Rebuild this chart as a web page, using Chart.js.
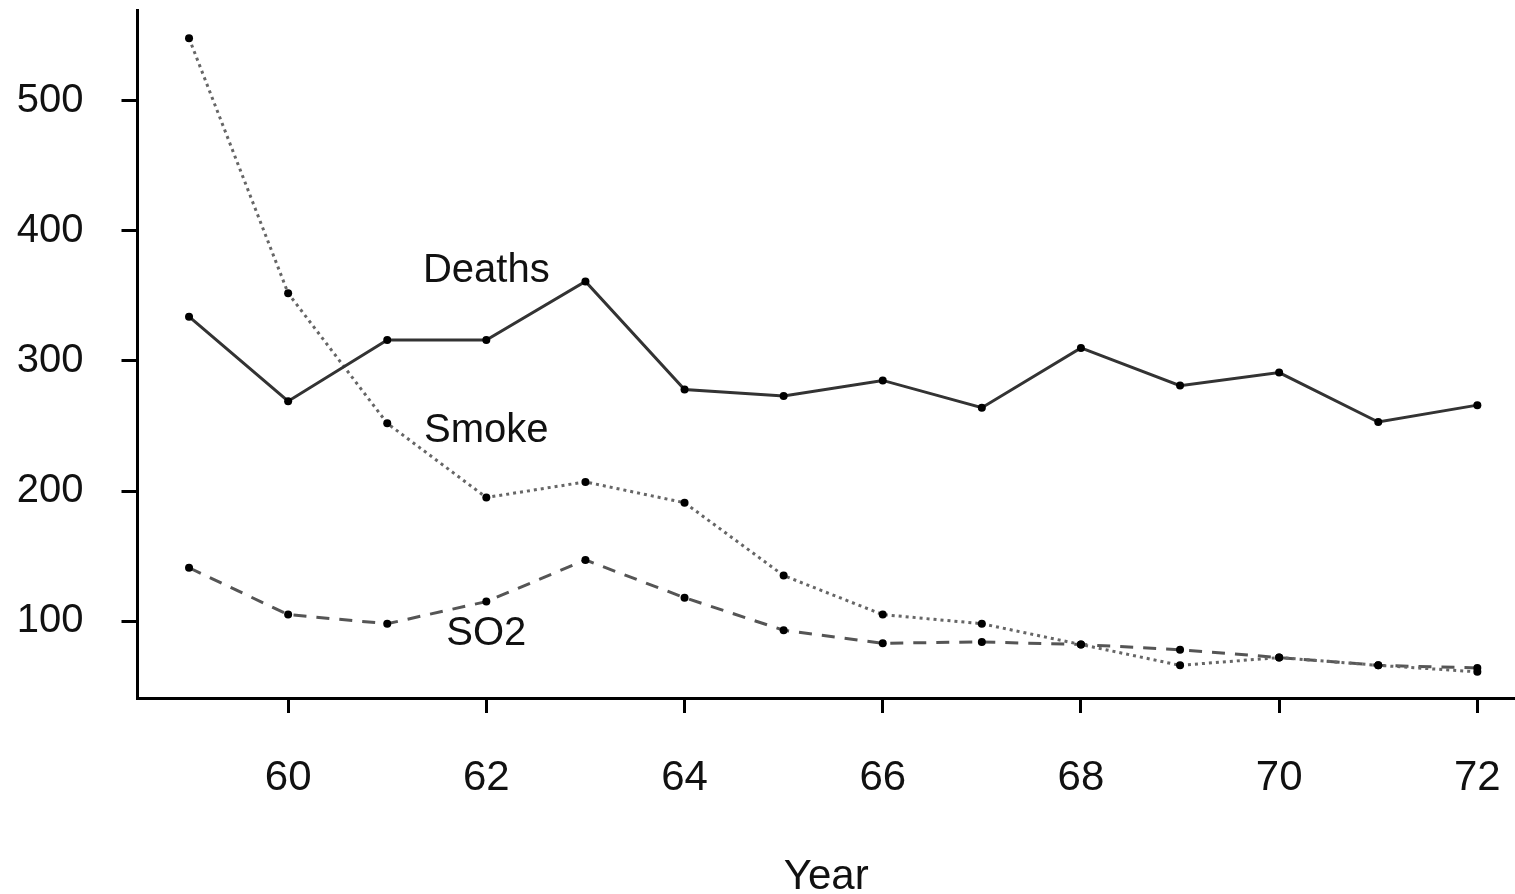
<!DOCTYPE html>
<html>
<head>
<meta charset="utf-8">
<script src="https://cdn.jsdelivr.net/npm/chart.js@4/dist/chart.umd.min.js"></script>
<style>
  html, body { margin: 0; padding: 0; background: #fff; }
  #wrap { width: 1515px; height: 894px; }
</style>
</head>
<body>
<div id="wrap"><canvas id="c"></canvas></div>
<script>
// London pollution series, 1959–1972 (two-digit years)
const years  = [59, 60, 61, 62, 63, 64, 65, 66, 67, 68, 69, 70, 71, 72];
const deaths = [334, 269, 316, 316, 361, 278, 273, 285, 264, 310, 281, 291, 253, 266];
const smoke  = [548, 352, 252, 195, 207, 191, 135, 105, 98, 82, 66, 72, 66, 61];
const so2    = [141, 105, 98, 115, 147, 118, 93, 83, 84, 82, 78, 72, 66, 64];

const xTicks = [60, 62, 64, 66, 68, 70, 72];
const yTicks = [100, 200, 300, 400, 500];

// in-plot series names, anchored in data units
const seriesNames = ['Deaths', 'Smoke', 'SO2'];
const nameYear    = [62, 62, 62];
const nameValue   = [369, 246, 90];

const INK = '#000';
const FONT = "'Liberation Sans', Arial, Helvetica, sans-serif";

const pts = vals => vals.map((v, i) => ({ x: years[i], y: v }));

const series = (label, vals, color, dash) => ({
  label, data: pts(vals),
  borderColor: color, borderWidth: 3, borderDash: dash,
  pointRadius: 4, pointBackgroundColor: '#000', pointBorderWidth: 0,
  tension: 0, fill: false,
});

// fixed box size, and no extra room reserved for edge tick labels
const fixBox = (dim, size) => s => {
  s[dim] = size;
  s.paddingTop = s.paddingBottom = s.paddingLeft = s.paddingRight = 0;
};

const seriesLabels = {
  id: 'seriesLabels',
  afterDatasetsDraw(chart) {
    const { ctx, scales: { x, y } } = chart;
    ctx.save();
    ctx.fillStyle = '#111';
    ctx.font = `40px ${FONT}`;
    ctx.textAlign = 'center';
    ctx.textBaseline = 'middle';
    seriesNames.forEach((s, i) => {
      ctx.fillText(s, x.getPixelForValue(nameYear[i]), y.getPixelForValue(nameValue[i]));
    });
    ctx.restore();
  },
};

new Chart(document.getElementById('c'), {
  type: 'line',
  data: {
    datasets: [
      series('Deaths', deaths, '#333', []),
      series('Smoke', smoke, '#666', [3, 4]),
      series('SO2', so2, '#555', [13, 10]),
    ],
  },
  options: {
    responsive: true, maintainAspectRatio: false, animation: false,
    layout: { autoPadding: false, padding: { top: 10, right: 0, left: 0, bottom: 0 } },
    plugins: { legend: { display: false }, tooltip: { enabled: false } },
    scales: {
      x: {
        type: 'linear', min: 58.48, max: 72.38,
        afterBuildTicks: s => { s.ticks = xTicks.map(v => ({ value: v })); },
        afterFit: fixBox('height', 196),
        grid: { drawOnChartArea: false, drawTicks: true, tickLength: 15, tickWidth: 3, color: INK },
        border: { display: true, color: INK, width: 3 },
        ticks: { color: '#111', padding: 40, maxRotation: 0, font: { family: FONT, size: 42 } },
        title: { display: true, text: 'Year', color: '#111', padding: { top: 0, bottom: -4 }, font: { family: FONT, size: 42, lineHeight: 1 } },
      },
      y: {
        type: 'linear', min: 40.9, max: 569.7,
        afterBuildTicks: s => { s.ticks = yTicks.map(v => ({ value: v })); },
        afterFit: fixBox('width', 137.5),
        grid: { drawOnChartArea: false, drawTicks: true, tickLength: 16, tickWidth: 3, color: INK },
        border: { display: true, color: INK, width: 3 },
        ticks: { color: '#111', padding: 38, font: { family: FONT, size: 40 } },
      },
    },
  },
  plugins: [seriesLabels],
});
</script>
</body>
</html>
